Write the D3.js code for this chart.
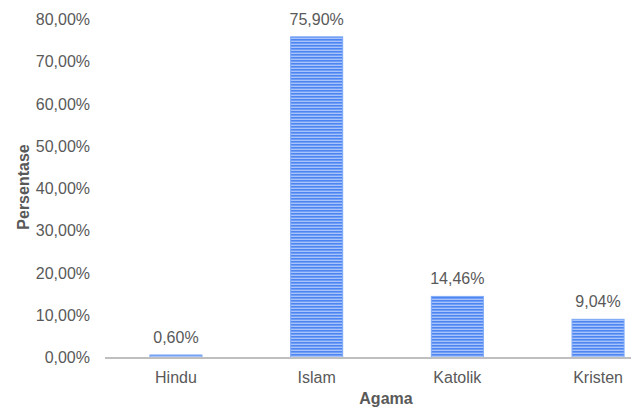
<!DOCTYPE html>
<html><head><meta charset="utf-8">
<script src="https://cdn.jsdelivr.net/npm/d3@7"></script>
<style>body{margin:0;background:#fff}svg{display:block}</style>
</head><body>
<svg id="c" width="631" height="412"></svg>
<script>
const categories = ["Hindu", "Islam", "Katolik", "Kristen"];
const values = [0.60, 75.90, 14.46, 9.04];
const yTicks = [0, 10, 20, 30, 40, 50, 60, 70, 80];
const xTitle = "Agama";
const yTitle = "Persentase";

const svg = d3.select("#c");
const fmt = v => d3.format(".2f")(v).replace(".", ",") + "%";
const textColor = "#595959";
const font = "Liberation Sans, Arial, sans-serif";
const fs = "16px";

const x = d3.scaleBand().domain(categories).range([105.6, 668.4]).paddingInner(0.63).paddingOuter(0.315);
const y = d3.scaleLinear().domain([0, 80]).range([357.5, 19.5]);

const defs = svg.append("defs");
const pat = defs.append("pattern").attr("id", "stripes").attr("patternUnits", "userSpaceOnUse")
  .attr("width", 6).attr("height", 3);
pat.append("rect").attr("width", 6).attr("height", 3).attr("fill", "#a8c3fa");
pat.append("rect").attr("y", 0).attr("width", 6).attr("height", 1.6).attr("fill", "#4d86f2");

// bars
svg.append("g").selectAll("rect").data(values).join("rect")
  .attr("x", (d, i) => x(categories[i]))
  .attr("y", d => y(d))
  .attr("width", x.bandwidth())
  .attr("height", d => y(0) - y(d))
  .attr("fill", "url(#stripes)")
  .attr("stroke", "#7ea9f6").attr("stroke-width", 1);

// x axis line
svg.append("line").attr("x1", 105).attr("x2", 631).attr("y1", y(0) + 0.5).attr("y2", y(0) + 0.5)
  .attr("stroke", "#bfbfbf").attr("stroke-width", 2);

// y axis
const yAxis = d3.axisLeft(y).tickValues(yTicks).tickFormat(fmt).tickSize(0).tickPadding(0);
const gy = svg.append("g").attr("transform", "translate(90,0)").call(yAxis);
gy.select(".domain").remove();
gy.selectAll("text").attr("fill", textColor).style("font-family", font).style("font-size", fs);

// x axis labels
const xAxis = d3.axisBottom(x).tickSize(0).tickPadding(0);
const gx = svg.append("g").attr("transform", `translate(0,${y(0) + 14.3})`).call(xAxis);
gx.select(".domain").remove();
gx.selectAll("text").attr("fill", textColor).style("font-family", font).style("font-size", fs);

// data labels
svg.append("g").selectAll("text").data(values).join("text")
  .attr("x", (d, i) => x(categories[i]) + x.bandwidth() / 2)
  .attr("y", d => y(d) - 12)
  .attr("text-anchor", "middle")
  .attr("fill", textColor).style("font-family", font).style("font-size", fs)
  .text(d => fmt(d));

// axis titles
svg.append("text").attr("x", 386).attr("y", 404).attr("text-anchor", "middle")
  .attr("fill", textColor).style("font-family", font).style("font-size", fs).style("font-weight", "bold")
  .text(xTitle);
svg.append("text").attr("transform", "translate(29,187) rotate(-90)").attr("text-anchor", "middle")
  .attr("fill", textColor).style("font-family", font).style("font-size", fs).style("font-weight", "bold")
  .text(yTitle);
</script>
</body></html>
